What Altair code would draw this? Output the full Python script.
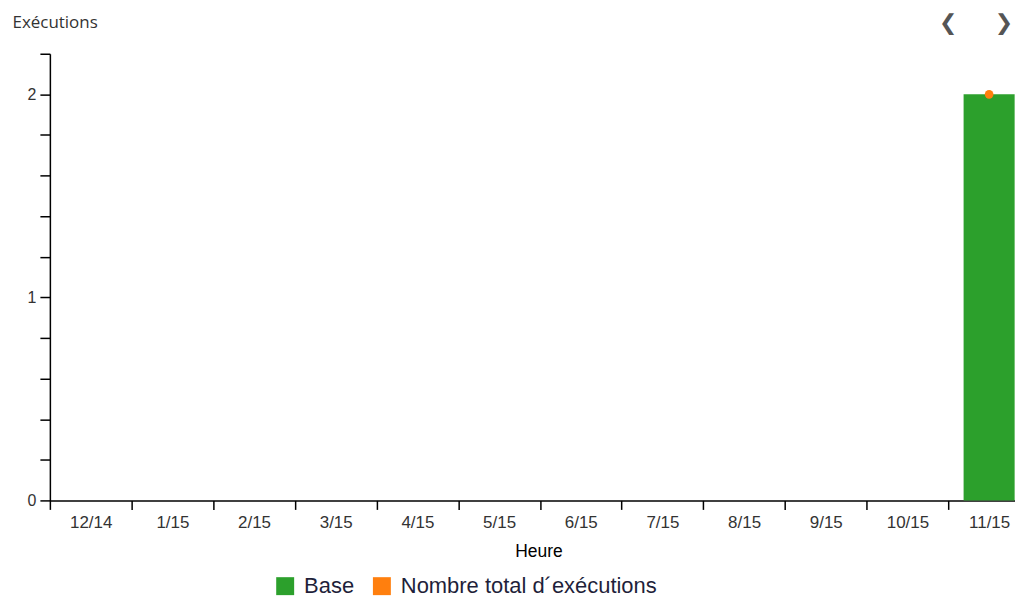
import altair as alt
import pandas as pd

months = ["12/14", "1/15", "2/15", "3/15", "4/15", "5/15", "6/15",
          "7/15", "8/15", "9/15", "10/15", "11/15"]
base_values = [0, 0, 0, 0, 0, 0, 0, 0, 0, 0, 0, 2]
total_values = [None, None, None, None, None, None, None, None, None, None, None, 2]
series_names = ["Base", "Nombre total d\u00b4ex\u00e9cutions"]
series_colors = ["#2ca02c", "#ff7f0e"]
y_ticks = [0, 0.2, 0.4, 0.6, 0.8, 1, 1.2, 1.4, 1.6, 1.8, 2, 2.2]

bars_df = pd.DataFrame({"Heure": months, "value": base_values, "series": series_names[0]})
pts_df = pd.DataFrame({"Heure": months, "value": total_values, "series": series_names[1]}).dropna()

half_step = 40.95

x_enc = alt.X(
    "Heure:N",
    sort=months,
    scale=alt.Scale(domain=months, range=[0, 983], paddingInner=0.375, paddingOuter=0.1875),
    axis=alt.Axis(
        title="Heure", labelAngle=0, tickOffset=-half_step, labelOffset=half_step,
        domainColor="#000", domainWidth=1.5, tickColor="#000", tickWidth=1.5, tickSize=9,
        labelFont="Liberation Sans", labelFontSize=17, labelColor="#333", labelPadding=5,
        titleFont="Liberation Sans", titleFontSize=17.5, titleFontWeight="normal", titleColor="#000",
        titleX=490, titleY=51, titleBaseline="middle",
    ),
)
y_enc = alt.Y(
    "value:Q",
    scale=alt.Scale(domain=[0, 2.2], nice=False),
    axis=alt.Axis(
        title="Ex\u00e9cutions", values=y_ticks, tickCount=30,
        labelExpr="datum.value % 1 === 0 ? format(datum.value, 'd') : ''", labelOverlap=False,
        grid=False, domainColor="#000", domainWidth=1.5, tickColor="#000", tickWidth=1.5, tickSize=10,
        labelFont="Liberation Sans", labelFontSize=16, labelColor="#333", labelPadding=4,
        titleAngle=0, titleAlign="left", titleBaseline="middle", titleX=-38, titleY=-31,
        titleFont="Open Sans", titleFontSize=17, titleFontWeight="normal", titleColor="#333",
    ),
)
color_enc = alt.Color(
    "series:N",
    scale=alt.Scale(domain=series_names, range=series_colors),
    legend=alt.Legend(
        title=None, orient="none", legendX=225, legendY=523, direction="horizontal",
        symbolType="square", symbolSize=324, symbolStrokeWidth=0, symbolOpacity=1,
        labelFont="Liberation Sans", labelFontSize=22, labelColor="#1f1f3a",
        labelOffset=8, columnPadding=16, labelLimit=500,
    ),
)

bars = alt.Chart(bars_df).mark_bar().encode(x=x_enc, y=y_enc, color=color_enc)
points = alt.Chart(pts_df).mark_circle(size=75, opacity=1).encode(x=x_enc, y=y_enc, color=color_enc)

nav_df = pd.DataFrame({"a": [0]})
left_arrow = alt.Chart(nav_df).mark_text(
    text="\u276e", font="DejaVu Sans", fontSize=22, color="#555", baseline="middle", align="center"
).encode(x=alt.value(901), y=alt.value(-31))
right_arrow = alt.Chart(nav_df).mark_text(
    text="\u276f", font="DejaVu Sans", fontSize=22, color="#555", baseline="middle", align="center"
).encode(x=alt.value(957), y=alt.value(-31))

chart = alt.layer(bars, points, left_arrow, right_arrow).properties(
    width=968, height=448,
    autosize=alt.AutoSizeParams(type="none"),
    padding={"left": 42, "top": 45, "right": 0, "bottom": 97},
).configure_view(strokeWidth=0)

chart.save("out.html", embed_options={"renderer": "svg", "actions": False})
